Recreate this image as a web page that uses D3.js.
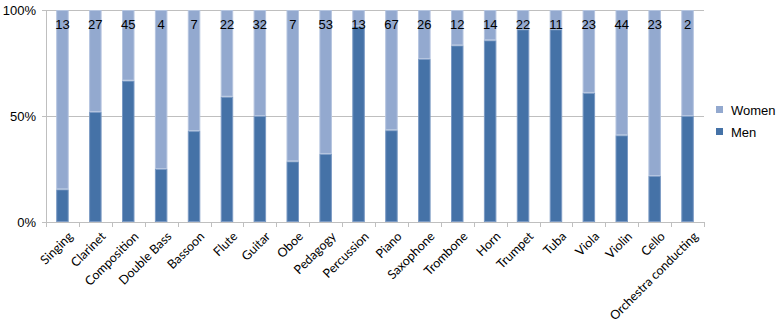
<!DOCTYPE html>
<html>
<head>
<meta charset="utf-8">
<script src="https://cdn.jsdelivr.net/npm/d3@7"></script>
<style>
  body { margin: 0; background: #fff; }
  svg { display: block; }
</style>
</head>
<body>
<div id="chart"></div>
<script>
// categories, share of men (%) and group size label
const categories = ["Singing", "Clarinet", "Composition", "Double Bass", "Bassoon", "Flute", "Guitar",
    "Oboe", "Pedagogy", "Percussion", "Piano", "Saxophone", "Trombone", "Horn", "Trumpet", "Tuba",
    "Viola", "Violin", "Cello", "Orchestra conducting"];
const menPct = [15.4, 51.9, 66.7, 25, 42.9, 59.1, 50, 28.6, 32.1, 92.3, 43.3, 76.9, 83.3, 85.7, 90.9, 90.9,
    60.9, 40.9, 21.7, 50];
const totals = [13, 27, 45, 4, 7, 22, 32, 7, 53, 13, 67, 26, 12, 14, 22, 11, 23, 44, 23, 2];
const yTicks = [0, 50, 100];
const seriesNames = ["Women", "Men"];

const width = 779, height = 322;
const margin = {top: 10, left: 46, right: 75, bottom: 100};
const plotWidth = width - margin.left - margin.right;
const plotHeight = height - margin.top - margin.bottom;

const colors = {Men: "#4572a7", Women: "#93a9cf"};
const strokes = {Men: "#7b9ac4", Women: "#b4c4df"};

const svg = d3.select("#chart").append("svg")
    .attr("width", width)
    .attr("height", height);

const data = categories.map((c, i) => ({cat: c, men: menPct[i], women: 100 - menPct[i], total: totals[i]}));

/***** SCALES *****/
const xScale = d3.scaleBand()
    .domain(categories)
    .range([0, plotWidth])
    .paddingInner(0.62)
    .paddingOuter(0.31);

const yScale = d3.scaleLinear()
    .domain([0, 100])
    .range([plotHeight, 0]);

const plot = svg.append("g")
    .attr("transform", `translate(${margin.left}, ${margin.top})`);

/***** GRIDLINES *****/
plot.append("g")
    .selectAll("line")
    .data(yTicks)
    .join("line")
        .attr("x1", -4)
        .attr("x2", plotWidth)
        .attr("y1", d => yScale(d) + 0.5)
        .attr("y2", d => yScale(d) + 0.5)
        .attr("stroke", "#bfbfbf");

// y axis line
plot.append("line")
    .attr("x1", 0.5).attr("x2", 0.5)
    .attr("y1", 0).attr("y2", plotHeight)
    .attr("stroke", "#bfbfbf");

// y tick labels
plot.append("g")
    .selectAll("text")
    .data(yTicks)
    .join("text")
        .attr("x", -10)
        .attr("y", d => yScale(d))
        .attr("dy", "0.35em")
        .attr("text-anchor", "end")
        .style("font-family", "Liberation Sans, Arial, sans-serif")
        .style("font-size", "13px")
        .attr("fill", "#000")
        .text(d => d + "%");

// x tick marks at category boundaries
const step = xScale.step();
plot.append("g")
    .selectAll("line")
    .data(d3.range(categories.length + 1))
    .join("line")
        .attr("x1", i => Math.round(i * plotWidth / categories.length) + 0.5)
        .attr("x2", i => Math.round(i * plotWidth / categories.length) + 0.5)
        .attr("y1", plotHeight)
        .attr("y2", plotHeight + 5)
        .attr("stroke", "#bfbfbf");

/***** BARS *****/
const stack = d3.stack().keys(["men", "women"])(data);
const keyName = {men: "Men", women: "Women"};

plot.append("g")
    .selectAll("g")
    .data(stack)
    .join("g")
        .attr("fill", d => colors[keyName[d.key]])
        .attr("stroke", d => strokes[keyName[d.key]])
    .selectAll("rect")
    .data(d => d)
    .join("rect")
        .attr("x", d => xScale(d.data.cat) + 0.5)
        .attr("y", d => yScale(d[1]) + 0.5)
        .attr("width", xScale.bandwidth() - 1)
        .attr("height", d => Math.max(0, yScale(d[0]) - yScale(d[1]) - 1));

// group size labels
plot.append("g")
    .selectAll("text")
    .data(data)
    .join("text")
        .attr("x", d => xScale(d.cat) + xScale.bandwidth() / 2)
        .attr("y", 14)
        .attr("dy", "0.35em")
        .attr("text-anchor", "middle")
        .style("font-family", "Liberation Sans, Arial, sans-serif")
        .style("font-size", "13px")
        .attr("fill", "#000")
        .text(d => d.total);

// x category labels
plot.append("g")
    .selectAll("text")
    .data(categories)
    .join("text")
        .attr("transform", d => `translate(${xScale(d) + xScale.bandwidth() / 2 + 5}, ${plotHeight + 9}) rotate(-45)`)
        .attr("text-anchor", "end")
        .attr("dy", "0.7em")
        .style("font-family", "Lato, sans-serif")
        .style("font-size", "12.5px")
        .attr("fill", "#000")
        .text(d => d);

/***** LEGEND *****/
const legend = svg.append("g")
    .attr("transform", `translate(716, 110)`);

legend.selectAll("g")
    .data(seriesNames)
    .join("g")
        .attr("transform", (d, i) => `translate(0, ${i * 22})`)
        .call(g => g.append("rect")
            .attr("x", 0).attr("y", -4)
            .attr("width", 7).attr("height", 7)
            .attr("fill", d => colors[d]))
        .call(g => g.append("text")
            .attr("x", 15)
            .attr("y", 0)
            .attr("dy", "0.35em")
            .style("font-family", "Liberation Sans, Arial, sans-serif")
            .style("font-size", "13px")
            .attr("fill", "#000")
            .text(d => d));
</script>
</body>
</html>
